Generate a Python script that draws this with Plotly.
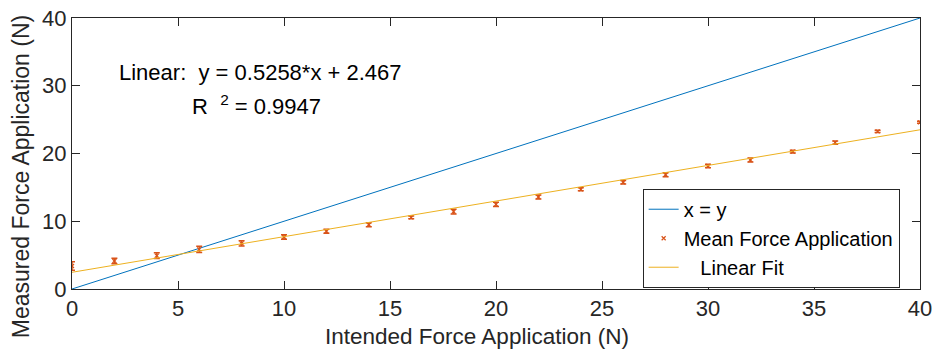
import plotly.graph_objects as go

# Data
x_vals = [0, 2, 4, 6, 8, 10, 12, 14, 16, 18, 20, 22, 24, 26, 28, 30, 32, 34, 36, 38, 40]
mean_force = [3.39, 4.13, 4.92, 5.85, 6.74, 7.67, 8.52, 9.49, 10.58, 11.41, 12.5,
              13.58, 14.71, 15.75, 16.87, 18.15, 19.04, 20.27, 21.6, 23.27, 24.6]
err = [0.62, 0.42, 0.42, 0.45, 0.38, 0.32, 0.3, 0.3, 0.2, 0.35, 0.32,
       0.3, 0.22, 0.25, 0.3, 0.25, 0.28, 0.2, 0.25, 0.17, 0.15]
identity_x = [0, 40]
identity_y = [0, 40]
fit_x = [0, 40]
fit_y = [2.467, 23.499]
x_ticks = [0, 5, 10, 15, 20, 25, 30, 35, 40]
y_ticks = [0, 10, 20, 30, 40]

BLUE = "#0072BD"
ORANGE = "#D95319"
YELLOW = "#EDB120"
AX = "#262626"
FONT = "Liberation Sans, Arial, Helvetica, sans-serif"

fig = go.Figure()
fig.add_trace(go.Scatter(x=identity_x, y=identity_y, mode="lines", name="x = y",
                         line=dict(color=BLUE, width=1)))
fig.add_trace(go.Scatter(x=x_vals, y=mean_force, mode="markers", name="Mean Force Application",
                         marker=dict(symbol="x-thin", size=4, color=ORANGE,
                                     line=dict(color=ORANGE, width=1.2)),
                         error_y=dict(type="data", array=err, visible=True, color=ORANGE,
                                      thickness=1.5, width=3)))
fig.add_trace(go.Scatter(x=fit_x, y=fit_y, mode="lines", name="   Linear Fit",
                         line=dict(color=YELLOW, width=1)))

axis_common = dict(showline=True, mirror="ticks", linecolor=AX, linewidth=1,
                   ticks="inside", ticklen=8, tickwidth=1, tickcolor=AX,
                   showgrid=False, zeroline=False, automargin=False,
                   tickfont=dict(family=FONT, size=22, color=AX))

fig.update_layout(
    width=935, height=351,
    margin=dict(l=72, r=15, t=18, b=62),
    paper_bgcolor="white", plot_bgcolor="white",
    font=dict(family=FONT, size=22, color="black"),
    showlegend=True,
    legend=dict(x=0.976, y=0.37, xanchor="right", yanchor="top",
                bordercolor="#262626", borderwidth=1, bgcolor="white",
                font=dict(family=FONT, size=20, color="black"),
                tracegroupgap=0, itemwidth=30),
    xaxis=dict(range=[0, 40], tickvals=x_ticks, **axis_common),
    yaxis=dict(range=[0, 40], tickvals=y_ticks, **axis_common),
    annotations=[
        dict(x=8.9, y=31.9, xref="x", yref="y", showarrow=False,
             text="Linear:  y = 0.5258*x + 2.467", xanchor="center",
             font=dict(family=FONT, size=22, color="black")),
        dict(x=8.7, y=27.2, xref="x", yref="y", showarrow=False,
             text="R  <sup>2</sup> = 0.9947", xanchor="center",
             font=dict(family=FONT, size=22, color="black")),
        dict(x=0.4776, y=-0.177, xref="paper", yref="paper", showarrow=False,
             text="Intended Force Application (N)", xanchor="center", yanchor="middle",
             font=dict(family=FONT, size=22.5, color=AX)),
        dict(x=-0.060, y=0.413, xref="paper", yref="paper", showarrow=False,
             text="Measured Force Application (N)", textangle=-90,
             xanchor="center", yanchor="middle",
             font=dict(family=FONT, size=23, color=AX)),
    ],
)

fig.write_html("out.html")
